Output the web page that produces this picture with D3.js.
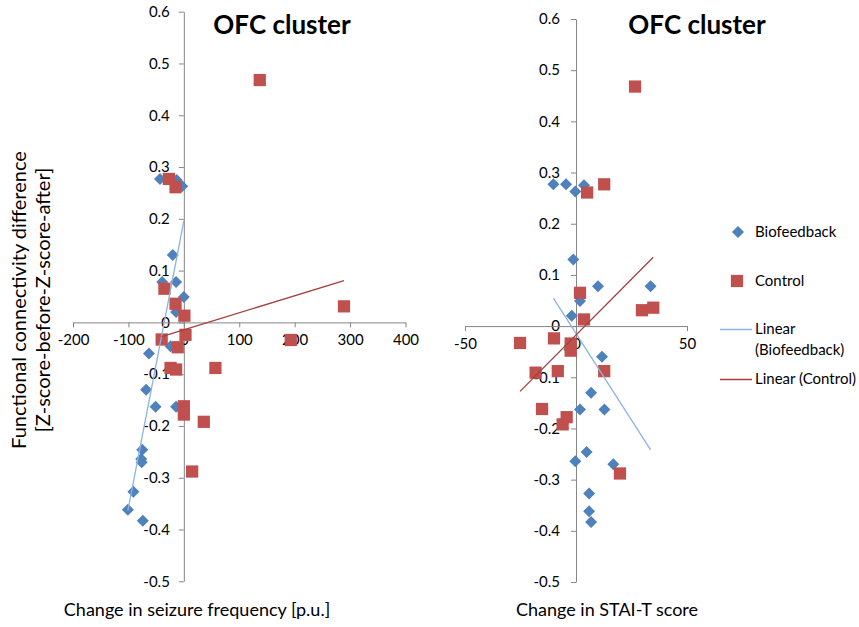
<!DOCTYPE html>
<html><head><meta charset="utf-8">
<script src="https://cdn.jsdelivr.net/npm/d3@7"></script>
<style>
body{margin:0;background:#fff}
svg{display:block;font-family:Lato,'Open Sans',sans-serif}
</style>
</head><body>
<svg id="chart" width="859" height="627"></svg>
<script>
// ---- data ----
const titleText = "OFC cluster";
const yTitleLines = ["Functional connectivity difference", "[Z-score-before-Z-score-after]"];
const xTitleLeft = "Change in seizure frequency [p.u.]";
const xTitleRight = "Change in STAI-T score";
const yTicks = [0.6, 0.5, 0.4, 0.3, 0.2, 0.1, 0, -0.1, -0.2, -0.3, -0.4, -0.5];
const seizureTicks = [-200, -100, 0, 100, 200, 300, 400];
const staiTicks = [-50, 0, 50];
const seriesNames = ["Biofeedback", "Control"];
const trendNames = ["Linear\n(Biofeedback)", "Linear (Control)"];

// Biofeedback group: y = connectivity difference, x = seizure change / STAI-T change
const bioY       = [0.277, 0.277, 0.275, 0.263, 0.130, 0.078, 0.078, 0.049, 0.020, -0.046, -0.060, -0.130, -0.163, -0.163, -0.246, -0.264, -0.270, -0.327, -0.362, -0.383];
const bioSeizure = [-43, -22, -13, -3, -20, -39, -14, 0, -14, -24, -63, -68, -51, -14, -75, -77, -76, -91, -101, -74];
const bioStai    = [-10.2, -4.5, 3.6, -0.3, -1.2, 9.9, 33.6, 1.8, -1.9, -3, 11.7, 6.8, 1.8, 12.8, 4.8, -0.3, 16.8, 5.9, 5.9, 6.8];

// Control group
const ctrlY       = [0.468, 0.277, 0.261, 0.065, 0.036, 0.031, 0.013, -0.024, -0.033, -0.034, -0.048, -0.088, -0.088, -0.091, -0.162, -0.178, -0.192, -0.288];
const ctrlSeizure = [137, -27, -15, -35, -15, 289, 1, 3, -40, 193, -11, 57, -24, -14, 0, 0, 36, 15];
const ctrlStai    = [26.6, 12.7, 5.0, 1.8, 34.8, 29.7, 3.6, -9.9, -25.2, -2.4, -2.4, 12.7, -8.2, -18.2, -15.3, -4.2, -6.0, 19.8];

// ---- styles ----
const blue = "#4F81BD", red = "#C0504D";
const blueTrend = "#8DB3E2", redTrend = "#A33F3D";
const axisColor = "#868686";

const svg = d3.select("#chart");
const diamond = d3.symbol().type(d3.symbolSquare).size(72);
const square = d3.symbol().type(d3.symbolSquare).size(150);

function regress(xs, ys) {
  const n = xs.length;
  const mx = d3.mean(xs), my = d3.mean(ys);
  let sxy = 0, sxx = 0;
  for (let i = 0; i < n; i++) { sxy += (xs[i]-mx)*(ys[i]-my); sxx += (xs[i]-mx)**2; }
  const b = sxy / sxx, a = my - b*mx;
  const x0 = d3.min(xs), x1 = d3.max(xs);
  return [[x0, a + b*x0], [x1, a + b*x1]];
}

function panel(cfg) {
  const x = d3.scaleLinear().domain(cfg.xDomain).range(cfg.xRange);
  const y = d3.scaleLinear().domain([-0.5, 0.6]).range(cfg.yRange);
  const g = svg.append("g");

  // y axis at x=0
  const ya = g.append("g").attr("transform", `translate(${x(0)},0)`)
    .call(d3.axisLeft(y).tickValues(yTicks).tickSize(5).tickSizeOuter(0).tickPadding(cfg.yPad)
      .tickFormat(d => d === 0 ? "0" : d3.format(".1f")(d).replace("−", "-")));
  // x axis at y=0
  const xa = g.append("g").attr("transform", `translate(0,${y(0)})`)
    .call(d3.axisBottom(x).tickValues(cfg.xTicks).tickSize(5).tickSizeOuter(0).tickPadding(7)
      .tickFormat(d => String(d)));
  [ya, xa].forEach(a => {
    a.select(".domain").attr("stroke", axisColor);
    a.selectAll(".tick line").attr("stroke", axisColor);
    a.selectAll(".tick text").attr("fill", "#000").attr("font-size", 15).attr("font-family", "Lato,'Open Sans',sans-serif");
  });

  // points
  g.append("g").selectAll("path").data(bioY.map((v, i) => [cfg.bioX[i], v])).join("path")
    .attr("d", diamond).attr("fill", blue)
    .attr("transform", d => `translate(${x(d[0])},${y(d[1])}) rotate(45)`);
  g.append("g").selectAll("path").data(ctrlY.map((v, i) => [cfg.ctrlX[i], v])).join("path")
    .attr("d", square).attr("fill", red)
    .attr("transform", d => `translate(${x(d[0])},${y(d[1])})`);

  // trendlines
  const line = d3.line().x(d => x(d[0])).y(d => y(d[1]));
  g.append("path").attr("d", line(regress(cfg.bioX, bioY))).attr("stroke", blueTrend).attr("stroke-width", 1.3).attr("fill", "none");
  g.append("path").attr("d", line(regress(cfg.ctrlX, ctrlY))).attr("stroke", redTrend).attr("stroke-width", 1.3).attr("fill", "none");

  // title
  g.append("text").attr("x", cfg.titleX).attr("y", 34).attr("text-anchor", "middle")
    .attr("font-size", 26).attr("font-weight", "bold").text(titleText);
  // x title
  g.append("text").attr("x", cfg.xTitleX).attr("y", 616).attr("text-anchor", "middle")
    .attr("font-size", 18).text(cfg.xTitle);
}

panel({xDomain: [-200, 400], xRange: [73, 405.5], yRange: [581.3, 11.7], xTicks: seizureTicks,
       bioX: bioSeizure, ctrlX: ctrlSeizure, titleX: 282, xTitleX: 197, xTitle: xTitleLeft, yPad: 9});
panel({xDomain: [-50, 50], xRange: [465, 687], yRange: [582, 19], xTicks: staiTicks,
       bioX: bioStai, ctrlX: ctrlStai, titleX: 697, xTitleX: 607, xTitle: xTitleRight, yPad: 11});

// y-axis title
const yt = svg.append("text").attr("transform", "translate(0,300) rotate(-90)")
  .attr("text-anchor", "middle").attr("font-size", 20);
yt.append("tspan").attr("x", 0).attr("y", 26).text(yTitleLines[0]);
yt.append("tspan").attr("x", 0).attr("y", 50).text(yTitleLines[1]);

// legend
const lg = svg.append("g").attr("font-size", 15);
lg.append("path").attr("d", diamond).attr("fill", blue).attr("transform", "translate(738,232) rotate(45)");
lg.append("text").attr("x", 755).attr("y", 237).text(seriesNames[0]);
lg.append("path").attr("d", square).attr("fill", red).attr("transform", "translate(737,281)");
lg.append("text").attr("x", 755).attr("y", 286).text(seriesNames[1]);
lg.append("line").attr("x1", 720).attr("x2", 752).attr("y1", 329.5).attr("y2", 329.5).attr("stroke", blueTrend).attr("stroke-width", 1.5);
const t1 = trendNames[0].split("\n");
lg.append("text").attr("x", 755).attr("y", 334).text(t1[0]);
lg.append("text").attr("x", 755).attr("y", 355).text(t1[1]);
lg.append("line").attr("x1", 720).attr("x2", 752).attr("y1", 379.5).attr("y2", 379.5).attr("stroke", redTrend).attr("stroke-width", 1.5);
lg.append("text").attr("x", 755).attr("y", 384).text(trendNames[1]);
</script>
</body></html>
